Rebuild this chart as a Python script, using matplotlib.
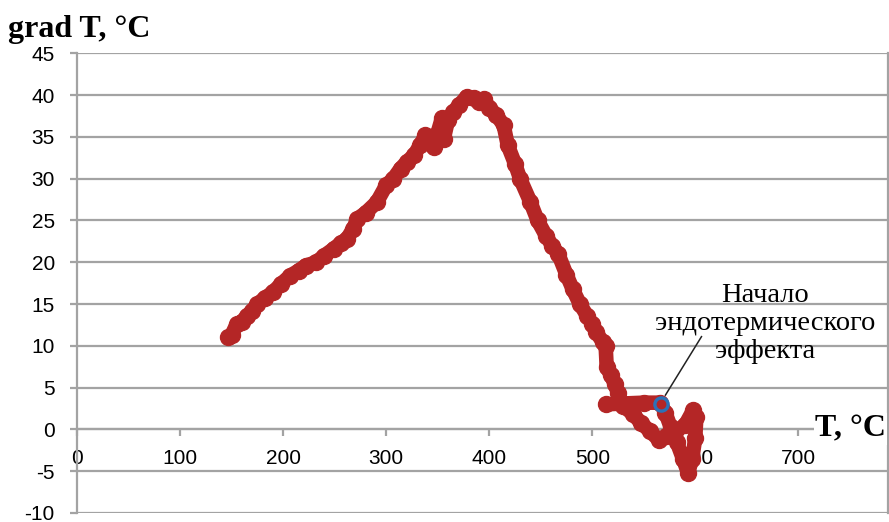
import matplotlib.pyplot as plt
import numpy as np

plt.rcParams['font.family'] = 'Liberation Sans'
plt.rcParams['axes.unicode_minus'] = False

# T, °C (x) and grad T, °C (y) in plotting order
temp = [147, 150, 155, 160, 165, 170, 175, 182, 190, 198, 207, 215, 222, 232,
        240, 249, 256, 262, 268, 272, 280, 291, 300, 307, 314, 320, 327, 333,
        338, 342, 346, 350, 354, 356, 360, 365, 371, 378, 385, 390, 395, 400,
        407, 414, 418, 425, 430, 440, 447, 455, 461, 467, 475, 481, 488, 495,
        500, 504, 510, 513, 514, 518, 522, 525, 530, 540, 547, 556, 565, 572,
        580, 590, 598, 601, 600, 597, 593, 588, 582, 576, 571, 566, 550, 530,
        513]
grad = [11.0, 11.3, 12.6, 12.9, 13.6, 14.2, 15.0, 15.7, 16.4, 17.4, 18.4, 19.0,
        19.6, 20.0, 20.8, 21.6, 22.3, 22.8, 24.0, 25.2, 25.9, 27.2, 29.2, 30.0,
        31.2, 32.0, 32.8, 34.0, 35.2, 34.8, 33.8, 35.5, 37.2, 34.8, 37.0, 38.0,
        38.8, 39.8, 39.6, 39.2, 39.5, 38.5, 37.6, 36.4, 34.0, 31.8, 30.0, 27.2,
        25.0, 23.2, 22.0, 21.0, 18.5, 16.8, 15.0, 13.6, 12.6, 11.6, 10.5, 10.0,
        7.5, 6.5, 5.4, 4.3, 2.8, 1.8, 0.8, -0.2, -1.3, -0.8, -0.3, 0.5, 2.3,
        1.5, -1.0, -3.5, -5.2, -3.5, -1.5, 0.3, 2.0, 3.2, 3.2, 3.1, 3.0]

# start of the endothermic effect
onset_t, onset_g = 567, 3.1
onset_text = 'Начало\nэндотермического\nэффекта'

xticks = [0, 100, 200, 300, 400, 500, 600, 700]
yticks = [45, 40, 35, 30, 25, 20, 15, 10, 5, 0, -5, -10]

grid_col = '#a3a3a3'
line_col = '#b42626'

fig = plt.figure(figsize=(8.89, 5.22), dpi=100)
ax = fig.add_axes([77 / 889, 9 / 522, 811 / 889, 459.7 / 522])

ax.plot(temp, grad, color=line_col, lw=10.5, marker='o', ms=11.5, mec=line_col,
        solid_capstyle='round', solid_joinstyle='round', zorder=3)
ax.plot([onset_t], [onset_g], 'o', ms=9.5, mfc='none', mec='#2b72b8', mew=2.4, zorder=4)
ax.plot([571, 606], [4.1, 11.1], color='#222222', lw=1.1, zorder=4)
ax.text(668, 12.7, onset_text, ha='center', va='center', fontsize=20.5,
        family='Liberation Serif', linespacing=1.17, zorder=5)

ax.set_xlim(0, 787)
ax.set_ylim(-10, 45)
ax.set_xticks(xticks)
ax.set_yticks(yticks)
ax.yaxis.grid(True, color=grid_col, lw=1.6, zorder=0)
ax.set_axisbelow(True)

ax.spines['bottom'].set_position(('data', 0))
ax.spines['top'].set_visible(False)
for s in ['left', 'bottom', 'right']:
    ax.spines[s].set_color(grid_col)
    ax.spines[s].set_linewidth(1.6)
ax.tick_params(axis='both', colors=grid_col, width=1.6, length=5,
               labelcolor='black', labelsize=15)
ax.tick_params(axis='y', pad=11)
ax.tick_params(axis='x', pad=9)

fig.text(8 / 889, 0.9297, 'grad T, °C', fontsize=23, fontweight='bold',
         family='Liberation Serif', ha='left', va='baseline')
fig.text(815 / 889, 0.1634, 'T, °C', fontsize=23, fontweight='bold',
         family='Liberation Serif', ha='left', va='baseline',
         bbox=dict(facecolor='white', edgecolor='none', pad=1))

fig.savefig('out.png', dpi=100)
